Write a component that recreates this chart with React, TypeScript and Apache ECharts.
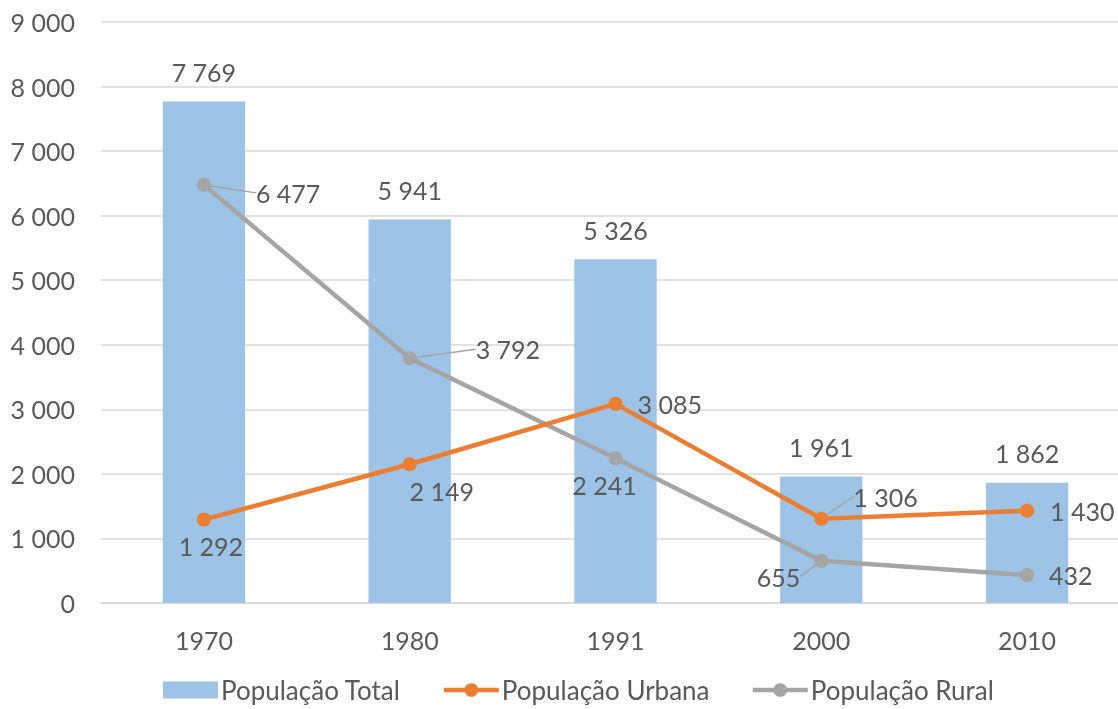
import React, { useEffect, useRef } from "react";
import * as echarts from "echarts";

const years = ["1970", "1980", "1991", "2000", "2010"];
const popTotal = [7769, 5941, 5326, 1961, 1862];
const popUrbana = [1292, 2149, 3085, 1306, 1430];
const popRural = [6477, 3792, 2241, 655, 432];

const FONT = "Lato";
const TXT = "#595959";
const FS = 25;

const fmt = (v: number) => {
  const s = String(Math.round(v));
  return s.replace(/\B(?=(\d{3})+(?!\d))/g, " ");
};

export default function App() {
  const ref = useRef<HTMLDivElement>(null);
  useEffect(() => {
    if (!ref.current) return;
    const chart = echarts.init(ref.current, null, { renderer: "svg" });
    const urbanPos = ["bottom", "bottom", "right", "right", "right"];
    const urbanDist = [7, 7, 15, 8, 16];
    const urbanLeader = [false, false, false, true, false];
    const urbanMove: Record<number, [number, number]> = { 0: [7, 0], 1: [32, 0], 3: [17, -22] };
    const ruralPos = ["right", "right", "bottom", "left", "right"];
    const ruralDist = [8, 8, 7, 8, 15];
    const ruralLeader = [true, true, false, true, false];
    const ruralMove: Record<number, [number, number]> = { 0: [37, 8], 1: [51, -9], 2: [-11, 0], 3: [-6, 16] };
    const labelBase = { show: true, color: TXT, fontFamily: FONT, fontSize: FS, formatter: (p: any) => fmt(p.value) };
    const leaderStyle = { color: "#a5a5a5", width: 1.5 };
    chart.setOption({
      animation: false,
      textStyle: { fontFamily: FONT },
      grid: { left: 101, right: 1, top: 22, bottom: 106, containLabel: false },
      legend: {
        left: 163,
        top: 677,
        padding: 0,
        itemWidth: 55,
        itemHeight: 17,
        itemGap: 41,
        lineStyle: { width: 4.5 },
        textStyle: { color: TXT, fontSize: 26, fontFamily: FONT, padding: [0, 0, 0, -2] },
        data: [
          { name: "População Total", icon: "rect" },
          { name: "População Urbana" },
          { name: "População Rural" },
        ],
      },
      xAxis: {
        type: "category",
        data: years,
        axisLine: { lineStyle: { color: "#d9d9d9", width: 1.5 } },
        axisTick: { show: false },
        axisLabel: { color: TXT, fontSize: FS, fontFamily: FONT, margin: 24 },
      },
      yAxis: {
        type: "value",
        min: 0,
        max: 9000,
        interval: 1000,
        axisLine: { show: false },
        axisTick: { show: false },
        splitLine: { lineStyle: { color: "#d9d9d9", width: 1.5 } },
        axisLabel: { color: TXT, fontSize: FS, fontFamily: FONT, margin: 26, formatter: (v: number) => fmt(v) },
      },
      series: [
        {
          name: "População Total",
          type: "bar",
          data: popTotal,
          barWidth: "40%",
          itemStyle: { color: "#9dc3e6" },
          label: { ...labelBase, position: "top", distance: 17 },
        },
        {
          name: "População Urbana",
          type: "line",
          data: popUrbana.map((v, i) => ({
            value: v,
            label: { position: urbanPos[i], distance: urbanDist[i] },
            labelLine: { show: urbanLeader[i], lineStyle: leaderStyle },
          })),
          symbol: "circle",
          symbolSize: 14,
          lineStyle: { color: "#ed7d31", width: 4.5 },
          itemStyle: { color: "#ed7d31" },
          label: labelBase,
          labelLine: { show: false, lineStyle: leaderStyle },
          labelLayout: (p: any) => {
            const m = urbanMove[p.dataIndex];
            return m ? { dx: m[0], dy: m[1] } : {};
          },
          z: 3,
        },
        {
          name: "População Rural",
          type: "line",
          data: popRural.map((v, i) => ({
            value: v,
            label: { position: ruralPos[i], distance: ruralDist[i] },
            labelLine: { show: ruralLeader[i], lineStyle: leaderStyle },
          })),
          symbol: "circle",
          symbolSize: 14,
          lineStyle: { color: "#a5a5a5", width: 4.5 },
          itemStyle: { color: "#a5a5a5" },
          label: labelBase,
          labelLine: { show: false, lineStyle: leaderStyle },
          labelLayout: (p: any) => {
            const m = ruralMove[p.dataIndex];
            return m ? { dx: m[0], dy: m[1] } : {};
          },
          z: 2,
        },
      ],
    });
    return () => chart.dispose();
  }, []);
  return <div ref={ref} style={{ position: "fixed", left: 0, top: 0, width: 1131, height: 709 }} />;
}
